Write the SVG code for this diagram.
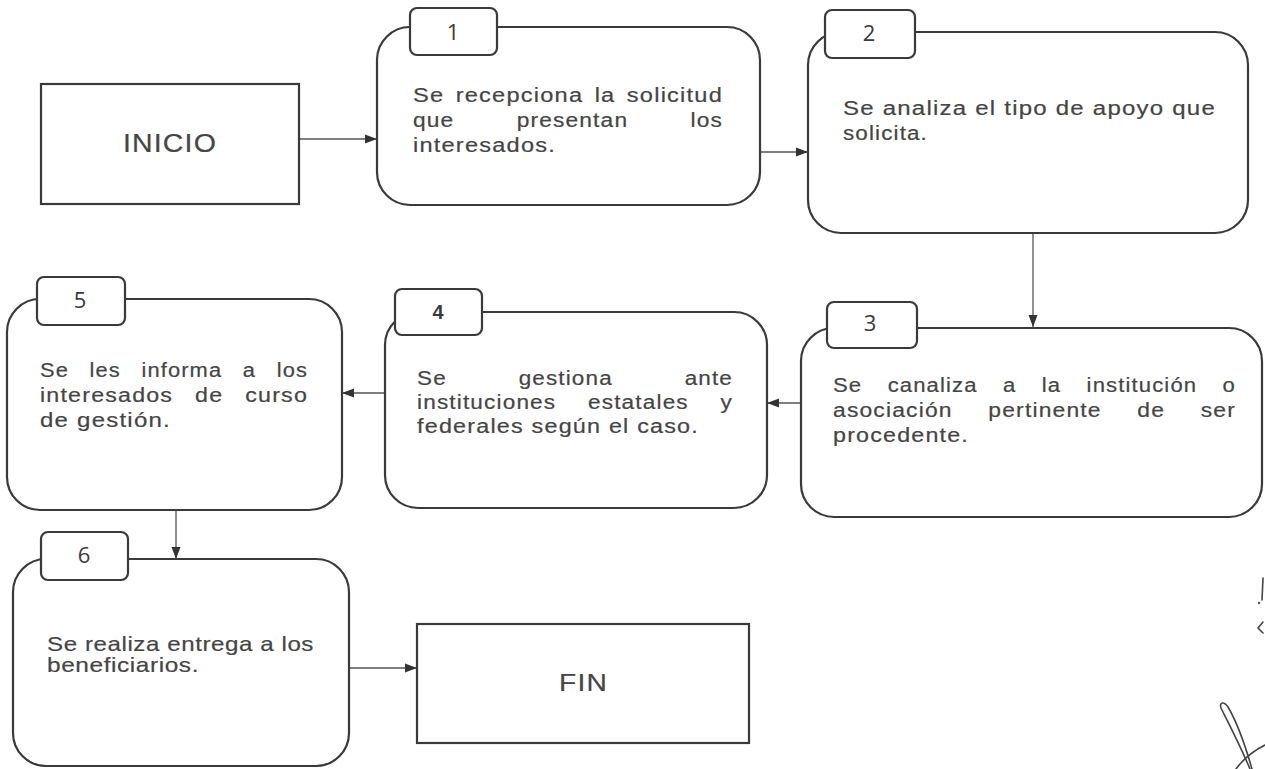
<svg xmlns="http://www.w3.org/2000/svg" width="1265" height="769" viewBox="0 0 1265 769">
  <defs>
    <marker id="arrow" markerUnits="userSpaceOnUse" markerWidth="13" markerHeight="10" refX="12" refY="5" orient="auto">
      <path d="M0,0.5 L12,5 L0,9.5 z" fill="#333"/>
    </marker>
    <style>
      .box { fill: #fff; stroke: #3a3a3a; stroke-width: 2.2; }
      .tab { fill: #fff; stroke: #3a3a3a; stroke-width: 2.2; }
      .txt { font-family: "Liberation Sans", Arial, sans-serif; font-size: 19.5px; fill: #454545; stroke: #454545; stroke-width: 0.2; letter-spacing: 1px; }
      .txt6 { font-family: "Liberation Sans", Arial, sans-serif; font-size: 21px; fill: #454545; stroke: #454545; stroke-width: 0.2; letter-spacing: 0.5px; }
      .big { font-family: "Liberation Sans", Arial, sans-serif; font-size: 25px; fill: #454545; stroke: #454545; stroke-width: 0.2; letter-spacing: 1px; }
      .num { font-family: "Open Sans", "Liberation Sans", sans-serif; font-size: 22px; fill: #3a3a3a; text-anchor: middle; }
      .numb { font-family: "Liberation Sans", Arial, sans-serif; font-size: 20px; font-weight: bold; fill: #3a3a3a; text-anchor: middle; }
      .link { fill: none; stroke: #555; stroke-width: 1.3; marker-end: url(#arrow); }
      .sig { fill: none; stroke: #444; stroke-width: 1.6; stroke-linecap: round; }
    </style>
  </defs>

  <rect width="1265" height="769" fill="#fff"/>

  <!-- connectors -->
  <g id="connectors">
    <line class="link" x1="300" y1="139" x2="377" y2="139"/>
    <line class="link" x1="760" y1="152" x2="808" y2="152"/>
    <line class="link" x1="1033" y1="233" x2="1033" y2="327"/>
    <line class="link" x1="801" y1="403" x2="767" y2="403"/>
    <line class="link" x1="385" y1="393" x2="342" y2="393"/>
    <line class="link" x1="176" y1="510" x2="176" y2="559"/>
    <line class="link" x1="349" y1="668" x2="417" y2="668"/>
  </g>

  <!-- start -->
  <g id="inicio">
    <rect class="box" x="41" y="84" width="258" height="120"/>
    <text class="big" x="123" y="152" textLength="94" lengthAdjust="spacingAndGlyphs">INICIO</text>
  </g>

  <!-- step 1 -->
  <g id="step1">
    <rect class="box" x="377" y="27" width="383" height="178" rx="33"/>
    <rect class="tab" x="410" y="8" width="87" height="47" rx="7"/>
    <text class="num" x="453" y="40">1</text>
    <text class="txt" x="413" y="102" textLength="310" lengthAdjust="spacingAndGlyphs" style="word-spacing:3px">Se recepciona la solicitud</text>
    <text class="txt" x="413" y="127" textLength="310" lengthAdjust="spacingAndGlyphs" style="word-spacing:47px">que presentan los</text>
    <text class="txt" x="413" y="152" textLength="143" lengthAdjust="spacingAndGlyphs">interesados.</text>
  </g>

  <!-- step 2 -->
  <g id="step2">
    <rect class="box" x="808" y="32" width="440" height="201" rx="33"/>
    <rect class="tab" x="825" y="10" width="90" height="48" rx="7"/>
    <text class="num" x="869" y="41">2</text>
    <text class="txt" x="843" y="115" textLength="373" lengthAdjust="spacingAndGlyphs">Se analiza el tipo de apoyo que</text>
    <text class="txt" x="843" y="140" textLength="85" lengthAdjust="spacingAndGlyphs">solicita.</text>
  </g>

  <!-- step 3 -->
  <g id="step3">
    <rect class="box" x="801" y="328" width="461" height="189" rx="33"/>
    <rect class="tab" x="827" y="302" width="90" height="46" rx="7"/>
    <text class="num" x="870" y="331">3</text>
    <text class="txt" x="833" y="392" textLength="403" lengthAdjust="spacingAndGlyphs" style="word-spacing:16px">Se canaliza a la institución o</text>
    <text class="txt" x="833" y="417" textLength="403" lengthAdjust="spacingAndGlyphs" style="word-spacing:24px">asociación pertinente de ser</text>
    <text class="txt" x="833" y="442" textLength="136" lengthAdjust="spacingAndGlyphs">procedente.</text>
  </g>

  <!-- step 4 -->
  <g id="step4">
    <rect class="box" x="385" y="312" width="382" height="196" rx="33"/>
    <rect class="tab" x="395" y="289" width="87" height="46" rx="7"/>
    <text class="numb" x="438" y="319">4</text>
    <text class="txt" x="417" y="385" textLength="316" lengthAdjust="spacingAndGlyphs" style="word-spacing:56px">Se gestiona ante</text>
    <text class="txt" x="417" y="409" textLength="316" lengthAdjust="spacingAndGlyphs" style="word-spacing:21px">instituciones estatales y</text>
    <text class="txt" x="417" y="433" textLength="282" lengthAdjust="spacingAndGlyphs">federales según el caso.</text>
  </g>

  <!-- step 5 -->
  <g id="step5">
    <rect class="box" x="7" y="299" width="335" height="211" rx="33"/>
    <rect class="tab" x="37" y="277" width="88" height="48" rx="7"/>
    <text class="num" x="80" y="308">5</text>
    <text class="txt" x="40" y="377" textLength="268" lengthAdjust="spacingAndGlyphs" style="word-spacing:12px">Se les informa a los</text>
    <text class="txt" x="40" y="402" textLength="268" lengthAdjust="spacingAndGlyphs" style="word-spacing:12px">interesados de curso</text>
    <text class="txt" x="40" y="427" textLength="131" lengthAdjust="spacingAndGlyphs">de gestión.</text>
  </g>

  <!-- step 6 -->
  <g id="step6">
    <rect class="box" x="13" y="559" width="336" height="207" rx="33"/>
    <rect class="tab" x="41" y="532" width="87" height="48" rx="7"/>
    <text class="num" x="84" y="563">6</text>
    <text class="txt6" x="47" y="651" textLength="267" lengthAdjust="spacingAndGlyphs">Se realiza entrega a los</text>
    <text class="txt6" x="47" y="672" textLength="152" lengthAdjust="spacingAndGlyphs">beneficiarios.</text>
  </g>

  <!-- end -->
  <g id="fin">
    <rect class="box" x="417" y="624" width="332" height="119"/>
    <text class="big" x="559" y="691" style="font-size:23.5px" textLength="49" lengthAdjust="spacingAndGlyphs">FIN</text>
  </g>

  <!-- handwritten initials at the right margin -->
  <g id="initials">
    <path class="sig" d="M1263,578 L1262,600"/>
    <circle cx="1259" cy="603" r="1.2" fill="#555"/>
    <path class="sig" d="M1263,622 L1258,628 L1263,633"/>
    <path class="sig" d="M1250,769 C1240,745 1228,722 1221,708 C1219,702 1224,701 1228,707 C1238,724 1246,748 1252,769"/>
    <path class="sig" d="M1236,769 C1244,758 1255,750 1265,745"/>
  </g>
</svg>
